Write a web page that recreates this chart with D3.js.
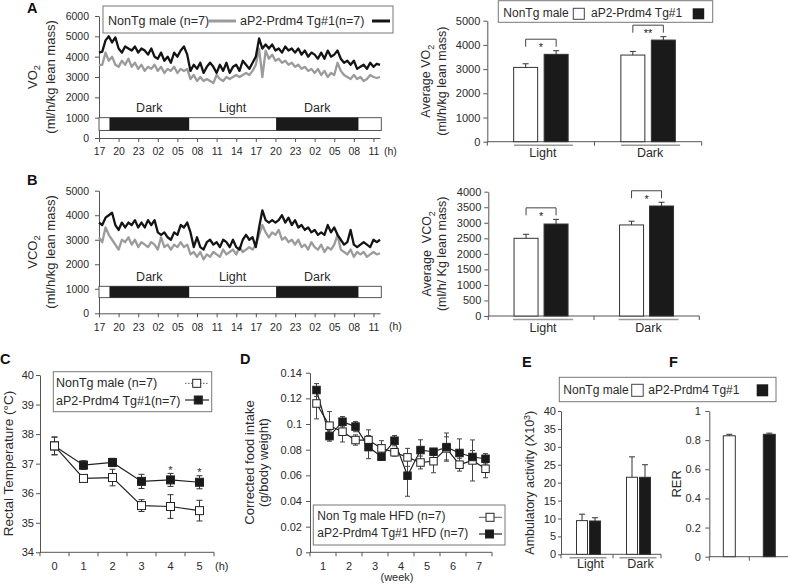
<!DOCTYPE html>
<html><head><meta charset="utf-8">
<script src="https://cdn.jsdelivr.net/npm/d3@7"></script>
<style>
body{margin:0;background:#fff}
svg{display:block}
</style></head><body>
<svg id="chart" width="788" height="584"></svg>
<script>
// ---------------- DATA ----------------
const SAMPLE_H = 0.5; // hours between samples in A/B
const timeTickLabels = ["17","20","23","02","05","08","11","14","17","20","23","02","05","08","11"];
const darkPeriods = [[1.6, 13.8], [27.1, 39.7]];
const phaseLabels = ["Dark", "Light", "Dark"];

const vo2Tg = [4200,4250,4800,5000,4700,4950,4400,4200,4500,4400,
 4300,4500,4200,4400,4300,4100,4400,4000,3900,4200,
 3800,4000,3700,4200,4000,4300,4500,4100,3300,3600,
 3400,3700,3200,3500,3700,3500,3200,3600,3300,3700,
 3200,3500,3600,3300,3800,3600,3400,3700,4000,4900,
 4400,4600,4400,4600,4300,4400,4200,4500,4300,4400,
 4200,4400,4100,4300,4000,4200,4100,3900,4200,3900,
 4300,4000,4100,4300,3900,3700,3800,3600,3800,3400,
 3500,3600,3400,3700,3500,3650,3600];
const vo2Non = [3600,3600,4200,3800,4000,3600,3500,3800,3600,3900,
 3500,3700,3400,3600,3300,3500,3400,3600,3300,3500,
 3200,3400,3300,3500,3200,3400,3300,3400,2900,3100,
 2800,3000,2800,2900,2800,2700,3100,2900,2800,3000,
 2900,3000,3100,3000,3100,3200,3100,3300,3600,4400,
 3000,4300,3900,4100,3800,3900,3700,3800,3600,3700,
 3500,3600,3400,3500,3300,3400,3200,3400,3100,3300,
 3000,3200,3100,3700,3300,3100,3000,2900,3100,2900,
 3000,2800,2900,3100,3000,2950,3000];
const vco2Tg = [3700,3600,3900,4000,4100,3600,3400,3700,3500,3700,
 3600,3800,3500,3700,3500,3800,3600,3800,3300,3200,
 3300,3100,3000,3300,3200,3600,3500,3700,3300,2700,
 3100,2700,2600,2900,3000,2800,2900,2700,3000,2900,
 2700,3000,2700,2600,3000,3200,3000,3100,2700,3500,
 4200,3800,3700,3800,3700,3800,4000,3700,3900,3600,
 3800,3500,3600,3400,3500,3300,3400,3200,3300,3200,
 3600,3300,3500,3200,3000,2800,2900,3400,2800,2700,
 2800,2900,2800,2700,3000,2900,3000];
const vco2Non = [3100,2900,3500,3200,3000,2800,2600,3000,2900,3100,
 2800,3000,2700,2900,2800,2700,2900,2800,2600,3100,
 2700,2800,2600,2800,2700,2900,2700,2800,2400,2500,
 2300,2500,2200,2400,2300,2500,2400,2300,2600,2400,
 2500,2600,2400,2700,2500,2600,2700,2600,2800,3200,
 3600,3300,3100,3300,3200,3400,3000,3100,2900,3000,
 2800,3000,2700,2800,2600,2900,2700,2600,2800,2500,
 2700,2600,2800,3200,2600,2500,2400,2600,2300,2500,
 2400,2500,2300,2400,2500,2400,2450];

const phaseCats = ["Light", "Dark"];
const avgVO2Non = [3070, 3580], avgVO2NonErr = [150, 150];
const avgVO2Tg = [3610, 4200], avgVO2TgErr = [150, 140];
const sigVO2 = ["*", "**"];
const avgVCO2Non = [2500, 2930], avgVCO2NonErr = [130, 120];
const avgVCO2Tg = [2960, 3540], avgVCO2TgErr = [150, 120];
const sigVCO2 = ["*", "*"];

const tempHours = ["0","1","2","3","4","5"];
const tempNon = [37.6, 36.5, 36.53, 35.58, 35.55, 35.41];
const tempNonErr = [0.3, 0.1, 0.28, 0.2, 0.4, 0.35];
const tempTg = [37.6, 36.95, 37.04, 36.4, 36.45, 36.37];
const tempTgErr = [0.3, 0.15, 0.14, 0.24, 0.22, 0.22];
const tempSig = ["", "", "", "", "*", "*"];

const foodWeeks = ["1","2","3","4","5","6","7"];
const foodNon = [0.116, 0.0987, 0.094, 0.0875, 0.0875, 0.081, 0.078, 0.074, 0.070, 0.071, 0.081, 0.0683, 0.0716, 0.0651];
const foodNonErr = [0.012, 0.011, 0.008, 0.004, 0.008, 0.006, 0.003, 0.007, 0.005, 0.009, 0.009, 0.005, 0.016, 0.007];
const foodTg = [0.1265, 0.0906, 0.1018, 0.098, 0.082, 0.0745, 0.087, 0.0597, 0.0797, 0.0784, 0.082, 0.0774, 0.0743, 0.0729];
const foodTgErr = [0.005, 0.004, 0.004, 0.004, 0.009, 0.002, 0.004, 0.016, 0.008, 0.002, 0.011, 0.011, 0.005, 0.004];

const actNon = [9.4, 21.5], actNonErr = [1.8, 5.7];
const actTg = [9.3, 21.5], actTgErr = [0.9, 3.5];

const rerGroups = ["NonTg male", "aP2-Prdm4 Tg#1"];
const rerVals = [0.83, 0.84], rerErr = [0.01, 0.008];

// ---------------- DRAWING ----------------
const FONT = '"Liberation Sans", Arial, Helvetica, sans-serif';
const INK = "#2a2a2a", AX = "#555", BLACK = "#1a1a1a";
const svg = d3.select("#chart").attr("font-family", FONT);

function styleAxis(g, fs) {
  g.attr("font-family", FONT).attr("font-size", fs);
  g.selectAll("path.domain").attr("stroke", AX);
  g.selectAll(".tick line").attr("stroke", AX);
  g.selectAll(".tick text").attr("fill", INK);
}
function txt(x, y, s, o = {}) {
  const t = svg.append("text").attr("x", x).attr("y", y).text(s)
    .attr("font-size", o.fs || 12.5).attr("fill", o.fill || INK)
    .attr("text-anchor", o.anchor || "start");
  if (o.bold) t.attr("font-weight", "bold");
  return t;
}
function vlabel(cx, cy, parts, fs) {
  const t = svg.append("text").attr("transform", `translate(${cx},${cy}) rotate(-90)`)
    .attr("text-anchor", "middle").attr("dy", "0.35em").attr("font-size", fs)
    .attr("fill", INK).style("white-space", "pre");
  parts.forEach(p => {
    const ts = t.append("tspan").text(p.t);
    if (p.sub) ts.attr("font-size", fs * 0.72).attr("dy", fs * 0.3);
    if (p.sup) ts.attr("font-size", fs * 0.72).attr("dy", -fs * 0.38);
    if (p.dy) ts.attr("dy", p.dy);
  });
}
function hline(x1, x2, y, color, w) {
  svg.append("line").attr("x1", x1).attr("x2", x2).attr("y1", y).attr("y2", y)
    .attr("stroke", color).attr("stroke-width", w || 1);
}
function vline(x, y1, y2, color, w) {
  svg.append("line").attr("x1", x).attr("x2", x).attr("y1", y1).attr("y2", y2)
    .attr("stroke", color).attr("stroke-width", w || 1);
}
function square(cx, cy, fill, s) {
  s = s || 8;
  svg.append("rect").attr("x", cx - s / 2).attr("y", cy - s / 2).attr("width", s).attr("height", s)
    .attr("fill", fill).attr("stroke", "#222").attr("stroke-width", 1);
}

// ----- panel letters -----
[["A", 27, 13], ["B", 27, 185], ["C", 0, 364], ["D", 240, 364], ["E", 522, 367], ["F", 669, 367]]
  .forEach(([s, x, y]) => txt(x, y, s, { fs: 14.5, bold: true, fill: "#111" }));

// ----- time-series panels (A left, B left) -----
function timePanel(o) {
  const x = d3.scaleLinear().domain([0, 43]).range([99, 380]);
  const y = d3.scaleLinear().domain([0, o.ymax]).range([o.bottom, o.top]);
  const gy = svg.append("g").attr("transform", `translate(${x(0)},0)`)
    .call(d3.axisLeft(y).tickValues(d3.range(0, o.ymax + 1, 1000)).tickFormat(d3.format("d"))
      .tickSize(4).tickSizeOuter(0).tickPadding(6));
  styleAxis(gy, 10.5);
  const gx = svg.append("g").attr("transform", `translate(0,${y(0)})`)
    .call(d3.axisBottom(x).tickValues(d3.range(0, 43, 3)).tickFormat((d, i) => timeTickLabels[i])
      .tickSize(4).tickSizeOuter(0).tickPadding(6));
  styleAxis(gx, 10.5);
  txt(o.hx, y(0) + 17, "(h)", { fs: 10.5 });

  // light/dark bar
  const bt = y(o.band[1]), bb = y(o.band[0]);
  svg.append("rect").attr("x", x(0)).attr("y", bt).attr("width", x(43.2) - x(0)).attr("height", bb - bt)
    .attr("fill", "#fff").attr("stroke", "#555");
  darkPeriods.forEach(p => svg.append("rect").attr("x", x(p[0])).attr("y", bt)
    .attr("width", x(p[1]) - x(p[0])).attr("height", bb - bt).attr("fill", BLACK));
  const cents = [(darkPeriods[0][0] + darkPeriods[0][1]) / 2, (darkPeriods[0][1] + darkPeriods[1][0]) / 2,
    (darkPeriods[1][0] + darkPeriods[1][1]) / 2];
  phaseLabels.forEach((s, i) => txt(x(cents[i]), bt - 5.5, s, { anchor: "middle", fs: 12.5 }));

  const line = d3.line().x((d, i) => x(i * SAMPLE_H)).y(d => y(d));
  svg.append("path").datum(o.non).attr("d", line).attr("fill", "none")
    .attr("stroke", "#9b9b9b").attr("stroke-width", 2.3).attr("stroke-linejoin", "round");
  svg.append("path").datum(o.tg).attr("d", line).attr("fill", "none")
    .attr("stroke", "#141414").attr("stroke-width", 2.3).attr("stroke-linejoin", "round");

  vlabel(32, (o.top + o.bottom) / 2, o.lab1, 13);
  vlabel(50, (o.top + o.bottom) / 2, [{ t: "(ml/h/kg lean mass)" }], 13);
}
timePanel({ bottom: 138, top: 16, ymax: 6000, band: [370, 1000], tg: vo2Tg, non: vo2Non, hx: 384,
  lab1: [{ t: "VO" }, { t: "2", sub: true }] });
timePanel({ bottom: 313.3, top: 190.7, ymax: 5000, band: [640, 1100], tg: vco2Tg, non: vco2Non, hx: 389,
  lab1: [{ t: "VCO" }, { t: "2", sub: true }] });

// legend A left
svg.append("rect").attr("x", 103).attr("y", 6).attr("width", 290).attr("height", 27)
  .attr("fill", "#fff").attr("stroke", "#777");
txt(108, 25, "NonTg male (n=7)");
hline(209, 236, 21, "#9b9b9b", 3);
txt(240, 25, "aP2-Prdm4 Tg#1(n=7)");
hline(372, 390, 21, "#141414", 3);

// ----- grouped bar panels -----
function barPanel(o) {
  const x = d3.scaleBand().domain(phaseCats).range([o.x0 + (o.shift || 0), o.x1 + (o.shift || 0)]);
  const y = d3.scaleLinear().domain([0, o.ymax]).range([o.bottom, o.top]);
  const gy = svg.append("g").attr("transform", `translate(${o.x0},0)`)
    .call(d3.axisLeft(y).tickValues(o.ticks).tickFormat(d3.format("d"))
      .tickSize(o.tick || 4).tickSizeOuter(0).tickPadding(o.pad || 3));
  styleAxis(gy, o.fs || 11);
  hline(o.x0, o.x1, o.bottom, AX);
  [o.x0, o.mid, o.x1].forEach(t => vline(t, o.bottom, o.bottom + 4, AX));

  phaseCats.forEach((c, i) => {
    const cx = x(c) + x.bandwidth() / 2;
    const xs = [cx - o.gap / 2 - o.bw, cx + o.gap / 2];
    const series = [[o.non, o.nonErr, "#fff"], [o.tg, o.tgErr, BLACK]];
    series.forEach(([v, e, f], k) => {
      svg.append("rect").attr("x", xs[k]).attr("y", y(v[i])).attr("width", o.bw)
        .attr("height", o.bottom - y(v[i])).attr("fill", f).attr("stroke", "#333").attr("stroke-width", 1);
      const ex = xs[k] + o.bw / 2;
      vline(ex, y(v[i]), y(v[i] + e[i]), "#333");
      hline(ex - 3, ex + 3, y(v[i] + e[i]), "#333");
    });
    hline(cx - o.ul[0], cx + o.ul[1], o.bottom + 3.5, "#9a9a9a", 1.6);
    txt(cx + 2, o.bottom + o.labDy, c, { anchor: "middle", fs: 12.5 });
    if (o.sig) {
      const top = Math.min(y(o.non[i] + o.nonErr[i]), y(o.tg[i] + o.tgErr[i]));
      const bx1 = xs[0] + o.bw / 2, bx2 = xs[1] + o.bw / 2;
      const by = top - 11.5, leg = top - 4;
      svg.append("path").attr("d", `M${bx1},${leg}V${by}H${bx2}V${leg}`)
        .attr("fill", "none").attr("stroke", "#444").attr("stroke-width", 1);
      txt((bx1 + bx2) / 2, by + 12, o.sig[i], { anchor: "middle", fs: 11, fill: "#222" });
    }
  });
}
barPanel({ x0: 487.3, x1: 701.7, mid: 594.5, bottom: 141.7, top: 20.7, ymax: 5000, ticks: d3.range(0, 5001, 1000),
  non: avgVO2Non, nonErr: avgVO2NonErr, tg: avgVO2Tg, tgErr: avgVO2TgErr, bw: 24, gap: 6.5,
  ul: [27, 32], labDy: 15.5, sig: sigVO2 });
barPanel({ x0: 488.3, x1: 699.3, mid: 594, bottom: 316, top: 191.7, ymax: 4000, ticks: d3.range(0, 4001, 500),
  non: avgVCO2Non, nonErr: avgVCO2NonErr, tg: avgVCO2Tg, tgErr: avgVCO2TgErr, bw: 24, gap: 6,
  ul: [28, 32], labDy: 15.5, sig: sigVCO2 });
barPanel({ x0: 561, x1: 661, mid: 613, shift: 2.5, bottom: 554.3, top: 411, ymax: 40, ticks: d3.range(0, 41, 5),
  non: actNon, nonErr: actNonErr, tg: actTg, tgErr: actTgErr, bw: 11, gap: 2,
  ul: [19, 18], labDy: 14, tick: 3, pad: 2 });

vlabel(425.7, 81.2, [{ t: "Average VO" }, { t: "2", sub: true }], 12.5);
vlabel(441.8, 81.2, [{ t: "(ml/h/kg lean mass)" }], 12.5);
vlabel(426.7, 253.8, [{ t: "Average  VCO" }, { t: "2", sub: true }], 12.5);
vlabel(441.8, 253.8, [{ t: "(ml/h/ Kg lean mass)" }], 12.5);
vlabel(530, 482.7, [{ t: "Ambulatory activity (X10" }, { t: "3", sup: true }, { t: ")", dy: 12.5 * 0.38 }], 12.5);

// legend A right
svg.append("rect").attr("x", 498.3).attr("y", 0.7).attr("width", 214.4).attr("height", 21.6)
  .attr("fill", "#fff").attr("stroke", "#777");
txt(503.3, 17.3, "NonTg male", { fs: 12 });
svg.append("rect").attr("x", 573.3).attr("y", 8.3).attr("width", 11).attr("height", 11).attr("fill", "#fff").attr("stroke", "#444");
txt(591, 17.3, "aP2-Prdm4 Tg#1", { fs: 12 });
svg.append("rect").attr("x", 692.7).attr("y", 8.3).attr("width", 11.5).attr("height", 11).attr("fill", BLACK);

// legend E/F
svg.append("rect").attr("x", 559.3).attr("y", 377.3).attr("width", 216.7).attr("height", 24.4)
  .attr("fill", "#fff").attr("stroke", "#777");
txt(563.3, 394.3, "NonTg male", { fs: 12 });
svg.append("rect").attr("x", 631.7).attr("y", 384.3).attr("width", 11.5).attr("height", 12).attr("fill", "#fff").attr("stroke", "#444");
txt(648.3, 394.3, "aP2-Prdm4 Tg#1", { fs: 12 });
svg.append("rect").attr("x", 756.7).attr("y", 384.3).attr("width", 11.5).attr("height", 12).attr("fill", BLACK);

// ----- panel C -----
(function () {
  const x = d3.scaleBand().domain(tempHours).range([40, 214]);
  const y = d3.scaleLinear().domain([34, 40]).range([552.3, 375]);
  const gy = svg.append("g").attr("transform", "translate(40,0)")
    .call(d3.axisLeft(y).tickValues(d3.range(34, 41)).tickFormat(d3.format("d")).tickSize(4).tickSizeOuter(0).tickPadding(2));
  styleAxis(gy, 11);
  hline(40, 214, 552.3, AX);
  tempHours.forEach(h => vline(x(h), 552.3, 556.3, AX));
  vline(214, 552.3, 556.3, AX);
  tempHours.forEach(h => txt(x(h) + x.bandwidth() / 2, 570, h, { anchor: "middle", fs: 11 }));
  txt(215, 570, "(h)", { fs: 11 });
  const cx = h => x(h) + x.bandwidth() / 2;
  const line = d3.line().x((d, i) => cx(tempHours[i])).y(d => y(d));
  [tempTg, tempNon].forEach(s => svg.append("path").datum(s).attr("d", line).attr("fill", "none")
    .attr("stroke", "#222").attr("stroke-width", 1.2));
  [[tempTg, tempTgErr], [tempNon, tempNonErr]].forEach(([v, e]) => v.forEach((d, i) => {
    const px = cx(tempHours[i]);
    vline(px, y(d - e[i]), y(d + e[i]), "#333");
    hline(px - 3, px + 3, y(d + e[i]), "#333");
    hline(px - 3, px + 3, y(d - e[i]), "#333");
  }));
  tempTg.forEach((d, i) => square(cx(tempHours[i]), y(d), BLACK));
  tempNon.forEach((d, i) => square(cx(tempHours[i]), y(d), "#fff"));
  tempSig.forEach((s, i) => { if (s) txt(cx(tempHours[i]), y(tempTg[i] + tempTgErr[i]) + 0.5, s, { anchor: "middle", fs: 11 }); });
  vlabel(8.5, 463.6, [{ t: "Rectal Temperature (°C)" }], 13.5);
  // legend
  svg.append("rect").attr("x", 53.3).attr("y", 371.7).attr("width", 158.4).attr("height", 40)
    .attr("fill", "#fff").attr("stroke", "#777");
  txt(56, 387.3, "NonTg male (n=7)");
  svg.append("line").attr("x1", 185).attr("x2", 209).attr("y1", 383.3).attr("y2", 383.3)
    .attr("stroke", "#555").attr("stroke-dasharray", "1.5,1.5");
  square(196.7, 383.3, "#fff");
  txt(56, 405, "aP2-Prdm4 Tg#1(n=7)");
  hline(185, 209, 400, "#222", 1.2);
  square(198.3, 400, BLACK);
})();

// ----- panel D -----
(function () {
  const idx = d3.range(foodTg.length);
  const x = d3.scaleBand().domain(idx).range([310, 492]);
  const y = d3.scaleLinear().domain([0, 0.14]).range([552.3, 372.7]);
  const gy = svg.append("g").attr("transform", "translate(310,0)")
    .call(d3.axisLeft(y).tickValues(d3.range(0, 8).map(k => k * 0.02)).tickFormat(d3.format("~g"))
      .tickSize(4).tickSizeOuter(0).tickPadding(4));
  styleAxis(gy, 11);
  hline(310, 492, 552.3, AX);
  foodWeeks.forEach((w, k) => {
    vline(x(2 * k), 552.3, 556.3, AX);
    txt(x(2 * k) + x.bandwidth(), 570, w, { anchor: "middle", fs: 11 });
  });
  vline(492, 552.3, 556.3, AX);
  txt(397, 581, "(week)", { anchor: "middle", fs: 11 });
  const cx = i => x(i) + x.bandwidth() / 2;
  const line = d3.line().x((d, i) => cx(i)).y(d => y(d));
  [foodNon, foodTg].forEach(s => svg.append("path").datum(s).attr("d", line).attr("fill", "none")
    .attr("stroke", "#222").attr("stroke-width", 1.2));
  [[foodNon, foodNonErr], [foodTg, foodTgErr]].forEach(([v, e]) => v.forEach((d, i) => {
    vline(cx(i), y(d - e[i]), y(d + e[i]), "#444");
    hline(cx(i) - 2.5, cx(i) + 2.5, y(d + e[i]), "#444");
    hline(cx(i) - 2.5, cx(i) + 2.5, y(d - e[i]), "#444");
  }));
  foodNon.forEach((d, i) => square(cx(i), y(d), "#fff", 7.5));
  foodTg.forEach((d, i) => square(cx(i), y(d), BLACK, 7.5));
  vlabel(249.5, 462.5, [{ t: "Corrected food intake" }], 13);
  vlabel(263, 462.5, [{ t: "(g/body weight)" }], 13);
  // legend
  svg.append("rect").attr("x", 313.3).attr("y", 505).attr("width", 191.7).attr("height", 40)
    .attr("fill", "#fff").attr("stroke", "#777");
  txt(317.3, 520, "Non Tg male HFD (n=7)", { fs: 12 });
  hline(479, 502, 517.3, "#555", 1);
  square(490, 517.3, "#fff", 8);
  txt(317.3, 536.7, "aP2-Prdm4 Tg#1 HFD (n=7)", { fs: 12 });
  hline(479, 502, 534, "#222", 1.2);
  square(489.5, 534, BLACK, 8);
})();

// ----- panel F -----
(function () {
  const x = d3.scaleBand().domain(rerGroups).range([709.3, 789.3]);
  const y = d3.scaleLinear().domain([0, 1]).range([556.7, 411]);
  const gy = svg.append("g").attr("transform", "translate(709.3,0)")
    .call(d3.axisLeft(y).tickValues([0, 0.2, 0.4, 0.6, 0.8, 1]).tickFormat(d3.format("~g"))
      .tickSize(4).tickSizeOuter(0).tickPadding(4.5));
  styleAxis(gy, 11);
  hline(709.3, 788, 556.7, AX);
  [709.3, 749.3].forEach(t => vline(t, 556.7, 560.7, AX));
  const fills = ["#fff", BLACK];
  rerGroups.forEach((g, i) => {
    const cx = x(g) + x.bandwidth() / 2;
    svg.append("rect").attr("x", cx - 6).attr("y", y(rerVals[i])).attr("width", 12)
      .attr("height", 556.7 - y(rerVals[i])).attr("fill", fills[i]).attr("stroke", "#333");
    vline(cx, y(rerVals[i]), y(rerVals[i] + rerErr[i]), "#333");
    hline(cx - 3, cx + 3, y(rerVals[i] + rerErr[i]), "#333");
  });
  vlabel(676.7, 483.8, [{ t: "RER" }], 13);
})();
</script>
</body></html>
